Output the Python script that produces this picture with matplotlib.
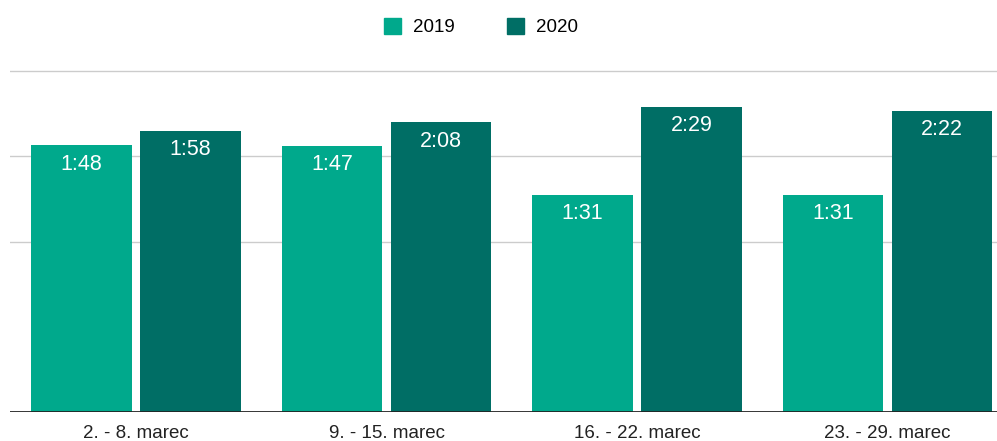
import matplotlib
matplotlib.use("Agg")
import matplotlib.pyplot as plt
import matplotlib.patches as mpatches
import numpy as np

# ── Data ────────────────────────────────────────────────────────────────────
weeks = ["2. - 8. marec", "9. - 15. marec", "16. - 22. marec", "23. - 29. marec"]
series = ["2019", "2020"]
# bar heights as drawn in the source chart (axis units)
heights_2019 = [3.13, 3.12, 2.55, 2.55]
heights_2020 = [3.30, 3.40, 3.58, 3.53]
# labels printed on the bars (min:sec)
labels_2019 = ["1:48", "1:47", "1:31", "1:31"]
labels_2020 = ["1:58", "2:08", "2:29", "2:22"]
grid_values = [2, 3, 4]

colors = ["#00A98C", "#006E65"]

plt.rcParams["font.family"] = ["Liberation Sans", "DejaVu Sans"]

fig = plt.figure(figsize=(9.97, 4.41), dpi=100)
ax = fig.add_axes([10 / 997, 29 / 441, 987 / 997, (412 - 54) / 441])

x = np.arange(len(weeks))
width = 0.40
offset = 0.2175

for g in grid_values:
    ax.axhline(g, color="#cccccc", lw=1, zorder=0)

for heights, labels, col, dx in [(heights_2019, labels_2019, colors[0], -offset),
                                 (heights_2020, labels_2020, colors[1], offset)]:
    bars = ax.bar(x + dx, heights, width=width, color=col, zorder=2)
    for b, lab in zip(bars, labels):
        ax.annotate(lab, (b.get_x() + b.get_width() / 2, b.get_height()),
                    xytext=(0, -6), textcoords="offset points",
                    ha="center", va="top", color="white", fontsize=15.5,
                    zorder=3)

ax.axhline(0, color="#222222", lw=2, zorder=4)

ax.set_xlim(-0.503, 3.437)
ax.set_ylim(0, 4.2)
ax.set_xticks(x)
ax.set_xticklabels(weeks, fontsize=13.5, color="#222222")
ax.tick_params(axis="x", length=0, pad=9)
ax.set_yticks([])
for s in ax.spines.values():
    s.set_visible(False)

handles = [mpatches.Patch(color=c, label=s) for c, s in zip(colors, series)]
fig.legend(handles=handles, loc="center", bbox_to_anchor=(0.4825, 0.938),
           ncol=2, frameon=False, fontsize=13.5, handlelength=0.9,
           handleheight=0.9, handletextpad=0.65, columnspacing=2.8)

fig.savefig("out.png", dpi=100)
